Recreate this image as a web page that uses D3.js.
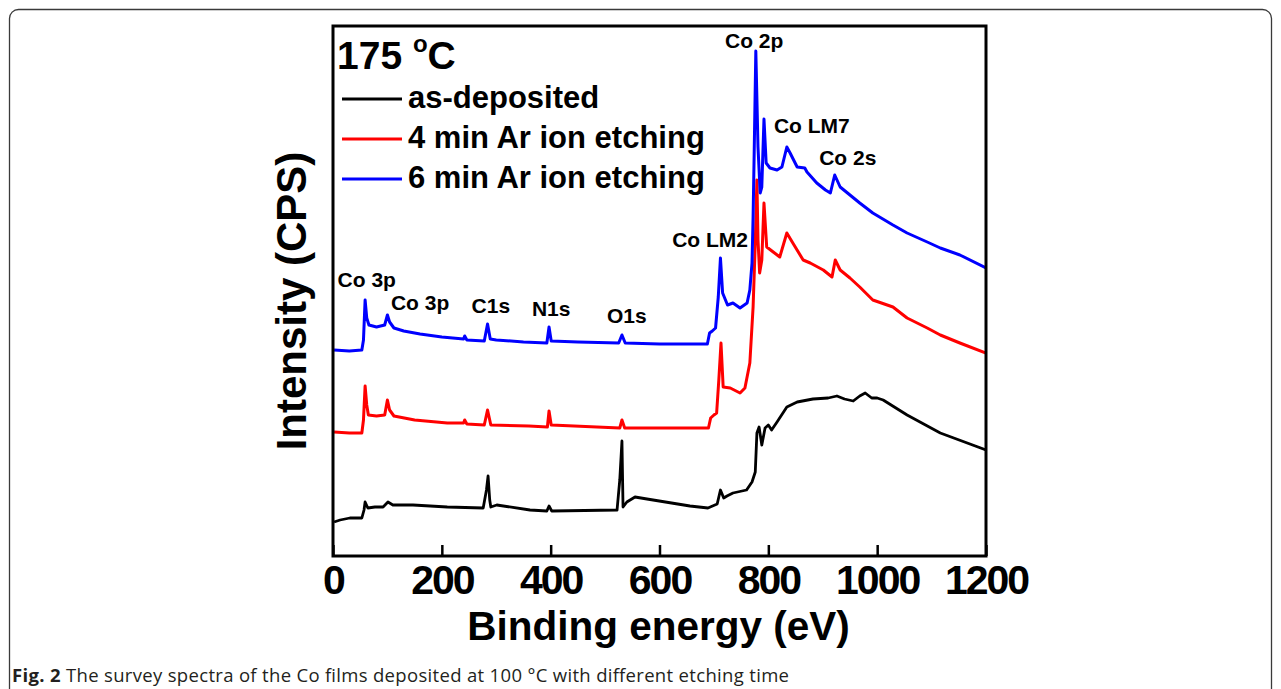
<!DOCTYPE html>
<html>
<head>
<meta charset="utf-8">
<script src="https://cdn.jsdelivr.net/npm/d3@7"></script>
<style>
  body { margin: 0; background: #fff; }
  svg { display: block; }
</style>
</head>
<body>
<div id="chartDiv"></div>
<script>
// XPS survey spectra, Co films, different Ar etching time
// values: [binding energy (eV), intensity (arb. units)]

var asDeposited = [
  [2, 34], [13, 36], [31, 38], [53, 38], [57, 46], [59, 54], [64, 48], [77, 49],
  [92, 49], [101, 54], [110, 51], [147, 51], [210, 49], [276, 48], [282, 66],
  [285, 80], [288, 56], [290, 49], [301, 51], [362, 46], [393, 45], [397, 50],
  [402, 45], [522, 46], [527, 76], [531, 115], [533, 49], [540, 54], [555, 59],
  [577, 57], [656, 50], [689, 48], [706, 52], [712, 66], [718, 58], [724, 60],
  [735, 63], [760, 66], [770, 74], [776, 84], [779, 123], [783, 129], [788, 111],
  [794, 128], [800, 131], [806, 126], [816, 134], [834, 149], [853, 154],
  [882, 157], [910, 158], [926, 160], [940, 157], [956, 155], [968, 160],
  [978, 163], [990, 158], [1000, 158], [1011, 156], [1055, 141], [1116, 123],
  [1200, 106]
];

var etch4min = [
  [2, 124], [30, 123], [53, 123], [56, 136], [59, 170], [62, 151], [65, 141],
  [80, 140], [95, 141], [100, 156], [104, 146], [112, 140], [150, 136],
  [210, 133], [240, 133], [242, 136], [246, 132], [278, 131], [284, 146],
  [290, 131], [360, 130], [394, 129], [397, 145], [401, 131], [485, 129],
  [527, 128], [531, 136], [536, 128], [600, 128], [690, 128], [694, 138],
  [700, 141], [705, 143], [709, 176], [713, 213], [717, 169], [730, 168],
  [748, 163], [757, 168], [766, 193], [772, 249], [776, 313], [779, 376],
  [781, 316], [784, 283], [788, 296], [792, 353], [797, 309], [809, 304],
  [821, 299], [834, 323], [845, 313], [864, 296], [877, 293], [901, 286],
  [917, 279], [923, 296], [932, 286], [950, 278], [968, 269], [992, 256],
  [1029, 249], [1055, 238], [1092, 228], [1116, 221], [1152, 213], [1200, 203]
];

var etch6min = [
  [2, 206], [30, 205], [53, 206], [56, 216], [59, 256], [62, 238], [66, 231],
  [80, 229], [95, 231], [100, 241], [104, 234], [112, 228], [130, 225],
  [160, 222], [200, 219], [240, 217], [242, 220], [246, 216], [278, 215],
  [284, 232], [289, 217], [300, 216], [350, 214], [393, 213], [397, 229],
  [401, 215], [450, 214], [525, 213], [531, 221], [537, 213], [600, 212],
  [688, 212], [692, 223], [697, 225], [703, 228], [708, 259], [712, 298],
  [716, 263], [725, 251], [735, 253], [748, 248], [761, 253], [766, 266],
  [770, 293], [772, 339], [774, 403], [777, 505], [781, 409], [785, 363],
  [788, 369], [792, 437], [796, 393], [803, 388], [816, 386], [825, 389],
  [834, 409], [840, 403], [853, 389], [867, 388], [871, 384], [889, 373],
  [905, 366], [914, 363], [922, 381], [932, 369], [950, 361], [968, 353],
  [992, 343], [1029, 331], [1055, 323], [1092, 314], [1116, 308], [1152, 301],
  [1200, 288]
];

var seriesNames = ["as-deposited", "4 min Ar ion etching", "6 min Ar ion etching"];
var seriesColors = ["#000000", "#ff0000", "#0000ff"];

var xTicks = [0, 200, 400, 600, 800, 1000, 1200];

// peak labels: [text, energy, intensity]
var peakLabels = [
  ["Co 2p", 774, 508],
  ["Co LM7", 880, 423],
  ["Co 2s", 946, 391],
  ["Co LM2", 693, 309],
  ["Co 3p", 62, 269],
  ["Co 3p", 160, 246],
  ["C1s", 290, 243],
  ["N1s", 401, 240],
  ["O1s", 540, 233]
];

var width = 1281;
var height = 689;
var plot = { left: 333, top: 26, right: 986, bottom: 556 };
var boldFont = "'Liberation Sans', Arial, sans-serif";

var svg = d3.select("#chartDiv").append("svg")
  .attr("width", width)
  .attr("height", height);

// outer panel border (runs past the bottom edge)
svg.append("rect")
  .attr("x", 9.5).attr("y", 9.5)
  .attr("width", 1262).attr("height", 720)
  .attr("rx", 9).attr("ry", 9)
  .style("fill", "none")
  .style("stroke", "#3a3a3a")
  .style("stroke-width", 1.3);

var xScale = d3.scaleLinear().domain([0, 1200]).range([plot.left, plot.right]);
var yScale = d3.scaleLinear().domain([0, 530]).range([plot.bottom, plot.top]);

svg.append("clipPath").attr("id", "plotClip")
  .append("rect")
  .attr("x", plot.left).attr("y", plot.top)
  .attr("width", plot.right - plot.left).attr("height", plot.bottom - plot.top);

var line = d3.line()
  .x(function(d) { return xScale(d[0]); })
  .y(function(d) { return yScale(d[1]); });

var allSeries = [asDeposited, etch4min, etch6min];

svg.append("g").attr("clip-path", "url(#plotClip)")
  .selectAll("path.spec")
  .data(allSeries)
  .enter().append("path")
    .attr("class", "spec")
    .attr("d", line)
    .style("fill", "none")
    .style("stroke", function(d, i) { return seriesColors[i]; })
    .style("stroke-width", function(d, i) { return i == 0 ? 2.8 : 3; })
    .style("stroke-linejoin", "round");

// x axis, ticks pointing inwards
var xAxis = d3.axisBottom(xScale)
  .tickValues(xTicks)
  .tickSizeInner(-11)
  .tickSizeOuter(0)
  .tickPadding(9)
  .tickFormat(d3.format("d"));

var xAxisG = svg.append("g")
  .attr("transform", "translate(0," + plot.bottom + ")")
  .call(xAxis);
xAxisG.select(".domain").remove();
xAxisG.selectAll("line").style("stroke", "#000").style("stroke-width", 2.5);
xAxisG.selectAll("text")
  .style("font-family", boldFont)
  .style("font-weight", "bold")
  .style("font-size", "41px")
  .style("letter-spacing", "-2px")
  .style("fill", "#000");

// frame
svg.append("rect")
  .attr("x", plot.left).attr("y", plot.top)
  .attr("width", plot.right - plot.left).attr("height", plot.bottom - plot.top)
  .style("fill", "none")
  .style("stroke", "#000")
  .style("stroke-width", 3);

// axis titles
svg.append("text")
  .attr("x", (plot.left + plot.right) / 2 - 1)
  .attr("y", 640)
  .attr("text-anchor", "middle")
  .style("font-family", boldFont)
  .style("font-weight", "bold")
  .style("font-size", "40.5px")
  .text("Binding energy (eV)");

svg.append("text")
  .attr("transform", "translate(306,301) rotate(-90)")
  .attr("text-anchor", "middle")
  .style("font-family", boldFont)
  .style("font-weight", "bold")
  .style("font-size", "42px")
  .text("Intensity (CPS)");

// temperature tag
var tag = svg.append("text")
  .attr("x", 337).attr("y", 69)
  .style("font-family", boldFont)
  .style("font-weight", "bold")
  .style("font-size", "39px");
tag.append("tspan").text("175 ");
tag.append("tspan").attr("dy", -17).style("font-size", "24px").text("o");
tag.append("tspan").attr("dy", 17).text("C");

// legend
var legend = svg.selectAll("g.legend")
  .data(seriesNames)
  .enter().append("g")
    .attr("class", "legend")
    .attr("transform", function(d, i) { return "translate(342," + (99 + i * 40) + ")"; });

legend.append("line")
  .attr("x1", 0).attr("x2", 60)
  .attr("y1", 0).attr("y2", 0)
  .style("stroke", function(d, i) { return seriesColors[i]; })
  .style("stroke-width", 3);

legend.append("text")
  .attr("x", 66).attr("y", 9)
  .style("font-family", boldFont)
  .style("font-weight", "bold")
  .style("font-size", "31px")
  .text(function(d) { return d; });

// peak labels
svg.selectAll("text.peak")
  .data(peakLabels)
  .enter().append("text")
    .attr("class", "peak")
    .attr("x", function(d) { return xScale(d[1]); })
    .attr("y", function(d) { return yScale(d[2]); })
    .attr("text-anchor", "middle")
    .style("font-family", boldFont)
    .style("font-weight", "bold")
    .style("font-size", "21px")
    .text(function(d) { return d[0]; });

// caption
var cap = svg.append("text")
  .attr("x", 12).attr("y", 682)
  .attr("textLength", 777)
  .attr("lengthAdjust", "spacing")
  .style("font-family", "'Open Sans', 'Noto Sans', sans-serif")
  .style("font-size", "18.5px")
  .style("fill", "#231f20");
cap.append("tspan").style("font-weight", "bold").text("Fig. 2");
cap.append("tspan").text(" The survey spectra of the Co films deposited at 100 \u00b0C with different etching time");
</script>
</body>
</html>
